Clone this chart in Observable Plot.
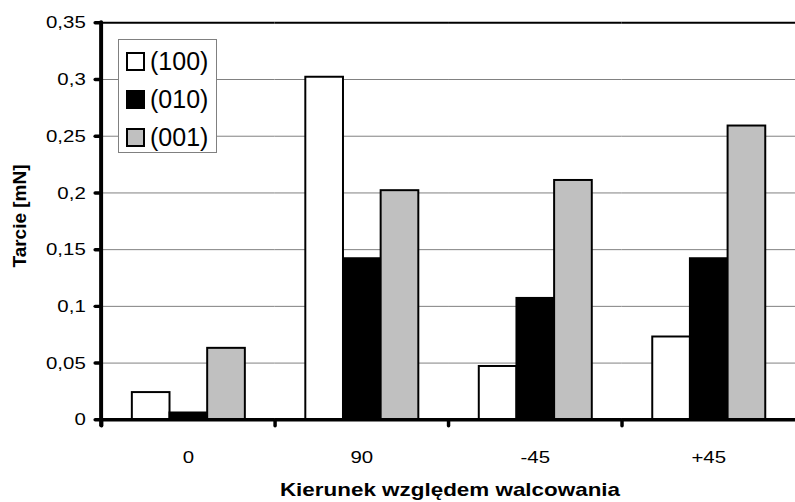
<!DOCTYPE html>
<html><head><meta charset="utf-8">
<script src="https://cdn.jsdelivr.net/npm/d3@7"></script>
<script src="https://cdn.jsdelivr.net/npm/@observablehq/plot@0.6"></script>
<style>
body{margin:0;background:#fff;overflow:hidden;}
#wrap{position:relative;width:795px;height:502px;overflow:hidden;background:#fff;}
#wrap svg{position:absolute;left:0;top:0;}
.ttl{position:absolute;font-family:"Liberation Sans",Arial,sans-serif;font-weight:bold;font-size:19px;line-height:normal;white-space:nowrap;color:#000;}
#legend{position:absolute;left:118px;top:39px;width:99px;height:114px;border:1px solid #808080;background:#fff;box-sizing:border-box;font-family:"Liberation Sans",Arial,sans-serif;font-size:25px;color:#000;}
.row{position:absolute;left:7px;height:30px;display:flex;align-items:center;}
.sw{width:15px;height:15px;border:2px solid #000;margin-right:5px;}
</style></head>
<body><div id="wrap"></div>
<script>
const categories = ["0", "90", "-45", "+45"];
const series = ["(100)", "(010)", "(001)"];
const values100 = [0.024, 0.302, 0.047, 0.073];
const values010 = [0.006, 0.142, 0.107, 0.142];
const values001 = [0.063, 0.202, 0.211, 0.259];
const seriesColors = ["#ffffff", "#000000", "#c0c0c0"];
const yTicks = [0, 0.05, 0.1, 0.15, 0.2, 0.25, 0.3, 0.35];
const yTickLabels = ["0", "0,05", "0,1", "0,15", "0,2", "0,25", "0,3", "0,35"];
const xTitle = "Kierunek względem walcowania";
const yTitle = "Tarcie [mN]";

const seriesValues = [values100, values010, values001];
const data = categories.flatMap((c, i) => series.map((s, j) => ({category: c, series: s, value: seriesValues[j][i]})));

const marginLeft = 102;
const wrap = document.getElementById("wrap");
const chart = Plot.plot({
  width: 802, height: 502,
  marginLeft, marginRight: 0, marginTop: 22.5, marginBottom: 79,
  style: {fontFamily: "Liberation Sans, Arial, sans-serif", fontSize: "17.5px", background: "#fff", color: "#000", overflow: "visible"},
  fx: {domain: categories, padding: 0, label: null},
  x: {domain: series, paddingInner: 0, paddingOuter: 0.76, axis: null},
  y: {domain: [0, 0.35], axis: null},
  color: {domain: series, range: seriesColors},
  marks: [
    Plot.gridY(yTicks.slice(1, -1), {stroke: "#808080", strokeOpacity: 1, strokeWidth: 1}),
    Plot.ruleY([yTicks[yTicks.length - 1]], {stroke: "#000", strokeWidth: 2}),
    Plot.barY(data, {fx: "category", x: "series", y: "value", fill: "series", stroke: "#000", strokeWidth: 2}),
    Plot.ruleY([0], {stroke: "#000", strokeWidth: 3.5}),
    Plot.frame({anchor: "left", stroke: "#000", strokeOpacity: 1, strokeWidth: 3.5, insetTop: 400.5, insetBottom: -6, strokeLinecap: "round"}),
    Plot.axisY(yTicks, {tickFormat: d => yTickLabels[yTicks.indexOf(d)], tickSize: 6, tickPadding: 10, stroke: "#000", strokeOpacity: 1, strokeWidth: 3.5, strokeLinecap: "round", label: null}),
    Plot.axisFx({anchor: "bottom", tickSize: 0, tickPadding: 31, label: null})
  ]
});
wrap.appendChild(chart);
chart.querySelectorAll("text").forEach(t => {
  const L = t.getComputedTextLength();
  if (L > 0) { t.setAttribute("textLength", L * 1.18); t.setAttribute("lengthAdjust", "spacingAndGlyphs"); }
});
// y axis domain line, positioned with the plot's own y scale
const ys = chart.scale("y");
d3.select(chart).append("line")
  .attr("x1", marginLeft).attr("x2", marginLeft)
  .attr("y1", ys.apply(yTicks[yTicks.length - 1]))
  .attr("y2", ys.apply(yTicks[0]) + 6)
  .attr("stroke", "#000").attr("stroke-width", 4).attr("stroke-linecap", "round");

const xt = document.createElement("div");
xt.className = "ttl"; xt.textContent = xTitle;
xt.style.left = "450px"; xt.style.top = "479px";
xt.style.transform = "translateX(-50%) scaleX(1.18)";
wrap.appendChild(xt);

const yt = document.createElement("div");
yt.className = "ttl"; yt.textContent = yTitle;
yt.style.left = "20px"; yt.style.top = "216px";
yt.style.transform = "translate(-50%,-50%) rotate(-90deg)";
wrap.appendChild(yt);

const lg = document.createElement("div");
lg.id = "legend";
series.forEach((s, i) => {
  const r = document.createElement("div");
  r.className = "row"; r.style.top = (6 + i * 38) + "px";
  const sw = document.createElement("div"); sw.className = "sw"; sw.style.background = seriesColors[i];
  const tx = document.createElement("span"); tx.textContent = s;
  r.appendChild(sw); r.appendChild(tx); lg.appendChild(r);
});
wrap.appendChild(lg);
</script>
</body></html>
